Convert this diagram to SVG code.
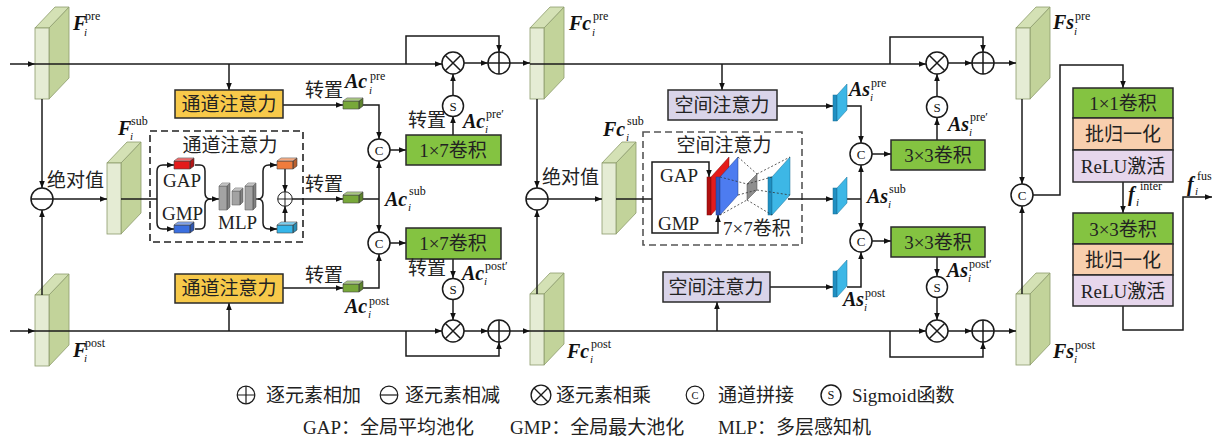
<svg xmlns="http://www.w3.org/2000/svg" xmlns:xlink="http://www.w3.org/1999/xlink" width="1215" height="440" viewBox="0 0 1215 440">
<style>
.ln{fill:none;stroke:#1a1a1a;stroke-width:1.5}
.ar{marker-end:url(#ah)}
.dsh{fill:none;stroke:#222;stroke-width:1.6;stroke-dasharray:7,4}
.dsh2{fill:none;stroke:#555;stroke-width:1.6;stroke-dasharray:7,4}
.box{stroke:#2a2a2a;stroke-width:1.5}
.yel{fill:#f7c94a}
.grn{fill:#84c341}
.lav{fill:#d9d4e9}
.pch{fill:#f8cfae}
.pur{fill:#e6d6ec}
.cn{font-family:"Liberation Serif","Noto Sans CJK SC",serif;font-size:19px;fill:#222}
.ct{text-anchor:middle}
.bm{font-family:"Liberation Serif",serif;font-weight:bold;font-style:italic;font-size:20px;fill:#111}
.sp{font-family:"Liberation Serif",serif;font-size:12px;fill:#111}
.sb{font-family:"Liberation Serif",serif;font-style:italic;font-size:11px;fill:#111}
.op{fill:#fff;stroke:#1a1a1a;stroke-width:1.5}
.fmf{fill:#e5ecd4;stroke:#8d9c6c;stroke-width:0.8}
.fmt{fill:#d4e1b5;stroke:#8d9c6c;stroke-width:0.8}
.fms{fill:#c2d39a;stroke:#8d9c6c;stroke-width:0.8}
.sym{font-family:"Liberation Serif",serif;font-size:13px;fill:#111;text-anchor:middle}
</style>
<defs>
<marker id="ah" viewBox="0 0 10 10" refX="10" refY="5" markerWidth="7" markerHeight="7" orient="auto" markerUnits="userSpaceOnUse"><path d="M0,1 L10,5 L0,9z" fill="#111"/></marker>
<g id="fm"><polygon class="fms" points="14,0 34,-21 34,50 14,71"/><polygon class="fmt" points="0,0 20,-21 34,-21 14,0"/><rect class="fmf" x="0" y="0" width="14" height="71"/></g>
<g id="cube"><path d="M0,3h16v8h-16z M0,3 l4,-3 h16 l-4,3z M16,3 l4,-3 v8 l-4,3z" stroke="#444" stroke-width="0.6"/><path d="M0,3 l4,-3 h16 l-4,3z" fill="#fff" fill-opacity="0.35"/><path d="M16,3 l4,-3 v8 l-4,3z" fill="#000" fill-opacity="0.22"/></g>
<g id="bar"><path d="M0,3h8v24h-8z M0,3 l3,-3 h8 l-3,3z M8,3 l3,-3 v24 l-3,3z" fill="#a3a3a3" stroke="#666" stroke-width="0.6"/><path d="M0,3 l3,-3 h8 l-3,3z" fill="#fff" fill-opacity="0.35"/><path d="M8,3 l3,-3 v24 l-3,3z" fill="#000" fill-opacity="0.2"/></g>
<g id="sbar"><path d="M0,3h8v14h-8z M0,3 l3,-3 h8 l-3,3z M8,3 l3,-3 v14 l-3,3z" fill="#a3a3a3" stroke="#666" stroke-width="0.6"/><path d="M0,3 l3,-3 h8 l-3,3z" fill="#fff" fill-opacity="0.35"/><path d="M8,3 l3,-3 v14 l-3,3z" fill="#000" fill-opacity="0.2"/></g>
<g id="asb"><rect x="0" y="11" width="4" height="26" fill="#1f8fc2" stroke="#1a6f96" stroke-width="0.5"/><polygon points="4,11 14,0 14,26 4,37" fill="#3db7e6" stroke="#1a6f96" stroke-width="0.5"/></g>
<g id="oplus"><circle class="op" r="11"/><path class="ln" d="M-11,0H11M0,-11V11"/></g>
<g id="otimes"><circle class="op" r="11"/><path class="ln" d="M-7.8,-7.8L7.8,7.8M-7.8,7.8L7.8,-7.8"/></g>
<g id="ominus"><circle class="op" r="11"/><path class="ln" d="M-11,0H11"/></g>
<g id="oc"><circle class="op" r="11"/><text class="sym" y="4.5">C</text></g>
<g id="os"><circle class="op" r="10.5"/><text class="sym" y="4.5">S</text></g>
</defs>

<g id="feature-maps">
<g id="F_pre"><use href="#fm" x="35" y="28"/></g>
<g id="F_sub"><use href="#fm" x="107" y="163"/></g>
<g id="F_post"><use href="#fm" x="35" y="295"/></g>
<g id="Fc_pre"><use href="#fm" x="530" y="28"/></g>
<g id="Fc_sub"><use href="#fm" x="602" y="163"/></g>
<g id="Fc_post"><use href="#fm" x="530" y="294"/></g>
<g id="Fs_pre"><use href="#fm" x="1016" y="28"/></g>
<g id="Fs_post"><use href="#fm" x="1016" y="294"/></g>
</g>

<g id="dashed-boxes">
<rect id="ca-box" class="dsh" x="150" y="131" width="153" height="111"/>
<rect id="sa-box" class="dsh2" x="643" y="132" width="159" height="113"/>
</g>

<g id="connectors">
<path class="ln ar" d="M10,64H35"/>
<path class="ln ar" d="M10,331H35"/>
<path class="ln ar" d="M35,64H442"/>
<path class="ln ar" d="M229,64V90"/>
<path class="ln ar" d="M406,64V36H499V52"/>
<path class="ln ar" d="M464,63H488"/>
<path class="ln ar" d="M510,63H530"/>
<path class="ln ar" d="M42,99V188"/>
<path class="ln ar" d="M42,295V210"/>
<path class="ln ar" d="M53,199H107"/>
<path class="ln" d="M121,199H157"/>
<path class="ln ar" d="M157,199V171Q157,165 163,165H174"/>
<path class="ln ar" d="M157,199V223Q157,229 163,229H174"/>
<path class="ln ar" d="M195,165H200Q205,165 205,171V193Q205,199 211,199H219"/>
<path class="ln" d="M195,229H200Q205,229 205,223V205Q205,199 211,199"/>
<path class="ln ar" d="M255,199H258Q263,199 263,193V171Q263,165 269,165H277"/>
<path class="ln ar" d="M258,199Q263,199 263,205V223Q263,229 269,229H277"/>
<path class="ln ar" d="M285,169V192"/>
<path class="ln ar" d="M285,222V206"/>
<path class="ln ar" d="M292,199H343"/>
<path class="ln ar" d="M283,105H343"/>
<path class="ln ar" d="M283,288H343"/>
<path class="ln ar" d="M359,105H379V139"/>
<path class="ln" d="M359,199H379"/>
<path class="ln ar" d="M379,199V161"/>
<path class="ln ar" d="M379,199V232"/>
<path class="ln ar" d="M359,288H379V254"/>
<path class="ln ar" d="M390,150H406"/>
<path class="ln ar" d="M390,243H406"/>
<path class="ln ar" d="M453,135V116"/>
<path class="ln ar" d="M453,95V74"/>
<path class="ln ar" d="M453,259V278"/>
<path class="ln ar" d="M453,300V320"/>
<path class="ln ar" d="M35,331H442"/>
<path class="ln ar" d="M229,331V303"/>
<path class="ln ar" d="M406,331V356H499V342"/>
<path class="ln ar" d="M464,331H488"/>
<path class="ln ar" d="M510,331H530"/>

<path class="ln ar" d="M530,64H926"/>
<path class="ln ar" d="M722,64V90"/>
<path class="ln ar" d="M890,64V37H983V52"/>
<path class="ln ar" d="M948,63H972"/>
<path class="ln ar" d="M994,63H1016"/>
<path class="ln ar" d="M537,99V188"/>
<path class="ln ar" d="M537,294V210"/>
<path class="ln ar" d="M548,199H602"/>
<path class="ln" d="M616,199H652"/>
<path class="ln ar" d="M652,199V162H709V177"/>
<path class="ln ar" d="M652,199V233H718V215"/>
<path class="ln ar" d="M788,199H833"/>
<path class="ln ar" d="M777,106H833"/>
<path class="ln ar" d="M847,106H861V143"/>
<path class="ln" d="M847,199H861"/>
<path class="ln ar" d="M861,199V165"/>
<path class="ln ar" d="M861,199V230"/>
<path class="ln ar" d="M770,287H833"/>
<path class="ln ar" d="M847,287H861V252"/>
<path class="ln ar" d="M872,154H891"/>
<path class="ln ar" d="M872,241H891"/>
<path class="ln ar" d="M937,140V118"/>
<path class="ln ar" d="M937,96V74"/>
<path class="ln ar" d="M937,257V276"/>
<path class="ln ar" d="M937,298V320"/>
<path class="ln ar" d="M530,331H926"/>
<path class="ln ar" d="M717,331V302"/>
<path class="ln ar" d="M890,331V357H983V342"/>
<path class="ln ar" d="M948,331H972"/>
<path class="ln ar" d="M994,331H1016"/>

<path class="ln ar" d="M1022,99V184"/>
<path class="ln ar" d="M1022,294V206"/>
<path class="ln ar" d="M1033,195H1060V65H1123V88"/>
<path class="ln ar" d="M1123,182V213"/>
<path class="ln ar" d="M1123,306V330H1183V197H1212"/>
</g>

<g id="ops">
<use href="#otimes" x="453" y="63"/>
<use href="#otimes" x="453" y="331"/>
<use href="#otimes" x="937" y="63"/>
<use href="#otimes" x="937" y="331"/>
<use href="#oplus" x="499" y="63"/>
<use href="#oplus" x="499" y="331"/>
<use href="#oplus" x="983" y="63"/>
<use href="#oplus" x="983" y="331"/>
<use href="#oplus" transform="translate(285,199) scale(0.66)"/>
<use href="#ominus" x="42" y="199"/>
<use href="#ominus" x="537" y="199"/>
<use href="#oc" x="379" y="150"/>
<use href="#oc" x="379" y="243"/>
<use href="#oc" x="861" y="154"/>
<use href="#oc" x="861" y="241"/>
<use href="#oc" x="1022" y="195"/>
<use href="#os" x="453" y="106"/>
<use href="#os" x="453" y="289"/>
<use href="#os" x="937" y="107"/>
<use href="#os" x="937" y="287"/>
</g>

<g id="ca-top"><rect class="box yel" x="175" y="90" width="108" height="28"/><text class="cn ct" x="229" y="111">通道注意力</text></g>
<g id="ca-bottom"><rect class="box yel" x="175" y="274" width="108" height="29"/><text class="cn ct" x="229" y="295">通道注意力</text></g>
<g id="conv17-top"><rect class="box grn" x="406" y="135" width="95" height="30"/><text class="cn ct" x="453" y="157">1×7卷积</text></g>
<g id="conv17-bottom"><rect class="box grn" x="406" y="228" width="95" height="31"/><text class="cn ct" x="453" y="250">1×7卷积</text></g>
<g id="sa-top"><rect class="box lav" x="668" y="90" width="109" height="30"/><text class="cn ct" x="722" y="112">空间注意力</text></g>
<g id="sa-bottom"><rect class="box lav" x="663" y="272" width="107" height="30"/><text class="cn ct" x="716" y="294">空间注意力</text></g>
<g id="conv33-top"><rect class="box grn" x="891" y="140" width="94" height="30"/><text class="cn ct" x="938" y="162">3×3卷积</text></g>
<g id="conv33-bottom"><rect class="box grn" x="891" y="227" width="94" height="30"/><text class="cn ct" x="938" y="249">3×3卷积</text></g>
<g id="stack1">
<rect class="box grn" x="1073" y="88" width="100" height="30"/><text class="cn ct" x="1123" y="110">1×1卷积</text>
<rect class="box pch" x="1073" y="118" width="100" height="32"/><text class="cn ct" x="1123" y="141">批归一化</text>
<rect class="box pur" x="1073" y="150" width="100" height="32"/><text class="cn ct" x="1123" y="173">ReLU激活</text>
</g>
<g id="stack2">
<rect class="box grn" x="1073" y="213" width="100" height="31"/><text class="cn ct" x="1123" y="236">3×3卷积</text>
<rect class="box pch" x="1073" y="244" width="100" height="31"/><text class="cn ct" x="1123" y="267">批归一化</text>
<rect class="box pur" x="1073" y="275" width="100" height="31"/><text class="cn ct" x="1123" y="298">ReLU激活</text>
</g>

<g id="channel-attention-inner">
<text class="cn ct" x="230" y="152">通道注意力</text>
<use href="#cube" x="174" y="158" fill="#e41b1b"/>
<use href="#cube" x="174" y="222" fill="#3b6fe0"/>
<use href="#cube" x="277" y="158" fill="#f07c3c"/>
<use href="#cube" x="277" y="222" fill="#35b6ea"/>
<use href="#bar" x="219" y="183"/>
<use href="#sbar" x="232" y="188"/>
<use href="#bar" x="245" y="183"/>
<text class="cn" x="163" y="187">GAP</text>
<text class="cn" x="162" y="220">GMP</text>
<text class="cn" x="218" y="229">MLP</text>
</g>

<g id="transpose-blocks">
<use href="#cube" x="343" y="98" fill="#78a83a"/>
<use href="#cube" x="343" y="192" fill="#78a83a"/>
<use href="#cube" x="343" y="281" fill="#78a83a"/>
<text class="cn" x="305" y="97">转置</text>
<text class="cn" x="305" y="191">转置</text>
<text class="cn" x="305" y="282">转置</text>
<text class="cn" x="408" y="127">转置</text>
<text class="cn" x="408" y="275">转置</text>
</g>

<g id="spatial-attention-inner">
<text class="cn ct" x="724" y="152">空间注意力</text>
<text class="cn" x="660" y="182">GAP</text>
<text class="cn" x="658" y="230">GMP</text>
<rect x="707" y="177" width="4" height="38" fill="#b01010" stroke="#7a0a0a" stroke-width="0.5"/>
<polygon points="711,177 729,157 729,195 711,215" fill="#e41b1b" stroke="#7a0a0a" stroke-width="0.5"/>
<rect x="716" y="177" width="4" height="38" fill="#2c55c0" stroke="#1d3c8a" stroke-width="0.5"/>
<polygon points="720,177 738,157 738,195 720,215" fill="#4d7cf0" stroke="#1d3c8a" stroke-width="0.5"/>
<polygon points="747,184 757,174 757,190 747,200" fill="#8e8e8e" stroke="#444" stroke-width="0.5"/>
<rect x="768" y="177" width="4" height="38" fill="#1f8fc2" stroke="#1a6f96" stroke-width="0.5"/>
<polygon points="772,177 790,157 790,195 772,215" fill="#3db7e6" stroke="#1a6f96" stroke-width="0.5"/>
<path d="M738,157L757,174M738,195L757,190M720,215L747,200M720,177L747,184M757,174L790,157M757,190L790,195M747,200L772,215M747,184L772,177" fill="none" stroke="#333" stroke-width="0.8" stroke-dasharray="2,2"/>
<text class="cn" x="723" y="235">7×7卷积</text>
</g>

<g id="as-blocks">
<use href="#asb" x="833" y="84"/>
<use href="#asb" x="833" y="177"/>
<use href="#asb" x="833" y="260"/>
</g>

<g id="misc-labels">
<text class="cn" x="47" y="187">绝对值</text>
<text class="cn" x="542" y="184">绝对值</text>
</g>

<g id="math-labels">
<text class="bm" x="73" y="30">F</text><text class="sp" x="85" y="20">pre</text><text class="sb" x="84" y="36">i</text>
<text class="bm" x="73" y="357">F</text><text class="sp" x="85" y="347">post</text><text class="sb" x="84" y="362">i</text>
<text class="bm" x="118" y="135">F</text><text class="sp" x="131" y="125">sub</text><text class="sb" x="130" y="140">i</text>
<text class="bm" x="345" y="88">Ac</text><text class="sp" x="370" y="80">pre</text><text class="sb" x="369" y="94">i</text>
<text class="bm" x="385" y="206">Ac</text><text class="sp" x="409" y="195">sub</text><text class="sb" x="408" y="211">i</text>
<text class="bm" x="345" y="313">Ac</text><text class="sp" x="369" y="305">post</text><text class="sb" x="368" y="318">i</text>
<text class="bm" x="463" y="128">Ac</text><text class="sp" x="486" y="118">pre′</text><text class="sb" x="485" y="133">i</text>
<text class="bm" x="462" y="280">Ac</text><text class="sp" x="485" y="270">post′</text><text class="sb" x="484" y="285">i</text>
<text class="bm" x="569" y="30">Fc</text><text class="sp" x="593" y="20">pre</text><text class="sb" x="592" y="36">i</text>
<text class="bm" x="603" y="136">Fc</text><text class="sp" x="627" y="125">sub</text><text class="sb" x="626" y="141">i</text>
<text class="bm" x="567" y="358">Fc</text><text class="sp" x="591" y="348">post</text><text class="sb" x="590" y="363">i</text>
<text class="bm" x="849" y="96">As</text><text class="sp" x="871" y="87">pre</text><text class="sb" x="870" y="101">i</text>
<text class="bm" x="867" y="203">As</text><text class="sp" x="889" y="193">sub</text><text class="sb" x="888" y="208">i</text>
<text class="bm" x="843" y="306">As</text><text class="sp" x="865" y="297">post</text><text class="sb" x="864" y="311">i</text>
<text class="bm" x="948" y="131">As</text><text class="sp" x="970" y="121">pre′</text><text class="sb" x="969" y="136">i</text>
<text class="bm" x="947" y="277">As</text><text class="sp" x="969" y="268">post′</text><text class="sb" x="968" y="282">i</text>
<text class="bm" x="1053" y="29">Fs</text><text class="sp" x="1075" y="20">pre</text><text class="sb" x="1074" y="35">i</text>
<text class="bm" x="1053" y="358">Fs</text><text class="sp" x="1075" y="349">post</text><text class="sb" x="1074" y="363">i</text>
<text class="bm" x="1128" y="201">f</text><text class="sp" x="1140" y="190">inter</text><text class="sb" x="1136" y="206">i</text>
<text class="bm" x="1187" y="191">f</text><text class="sp" x="1197" y="180">fus</text><text class="sb" x="1195" y="195">i</text>
</g>

<g id="legend">
<use href="#oplus" transform="translate(246,395) scale(0.8)"/><text class="cn" x="266" y="402">逐元素相加</text>
<use href="#ominus" transform="translate(389,395) scale(0.8)"/><text class="cn" x="405" y="402">逐元素相减</text>
<use href="#otimes" transform="translate(541,395) scale(0.9)"/><text class="cn" x="556" y="402">逐元素相乘</text>
<use href="#oc" transform="translate(695,395) scale(0.8)"/><text class="cn" x="718" y="402">通道拼接</text>
<use href="#os" transform="translate(831,395) scale(0.95)"/><text class="cn" x="852" y="402">Sigmoid函数</text>
<text class="cn" x="303" y="434">GAP：全局平均池化</text>
<text class="cn" x="510" y="434">GMP：全局最大池化</text>
<text class="cn" x="718" y="434">MLP：多层感知机</text>
</g>
</svg>
